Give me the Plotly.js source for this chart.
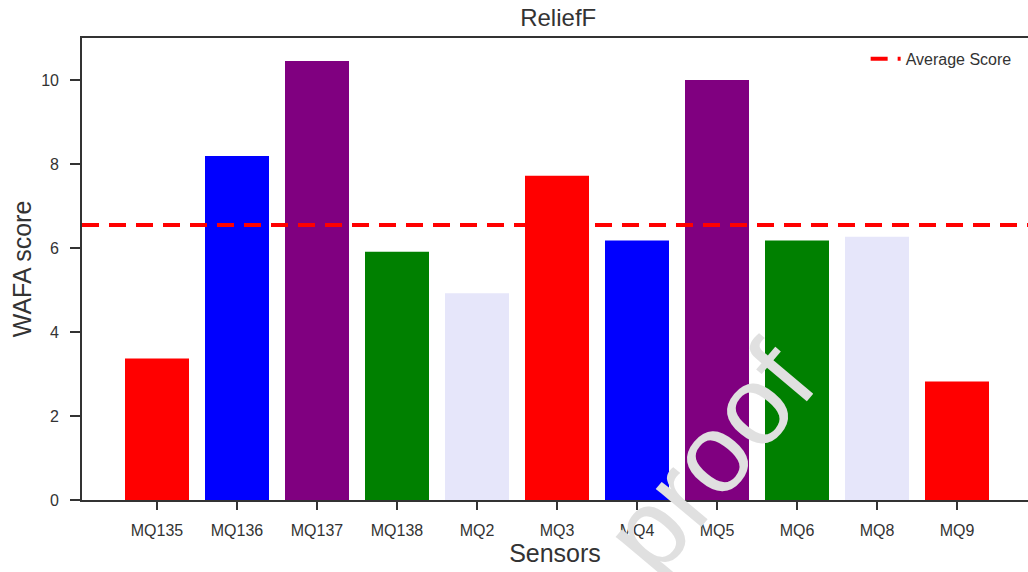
<!DOCTYPE html>
<html>
<head>
<meta charset="utf-8">
<script src="https://cdn.plot.ly/plotly-3.0.1.min.js"></script>
<style>html,body{margin:0;padding:0;background:#fff;} #chart{width:1028px;height:572px;}</style>
</head>
<body>
<div id="chart"></div>
<script>
const sensors = ["MQ135","MQ136","MQ137","MQ138","MQ2","MQ3","MQ4","MQ5","MQ6","MQ8","MQ9"];
const scores = [3.37, 8.19, 10.45, 5.91, 4.92, 7.72, 6.18, 10.0, 6.18, 6.27, 2.82];
const barColors = ["#ff0000","#0000ff","#800080","#008000","#e6e6fa","#ff0000","#0000ff","#800080","#008000","#e6e6fa","#ff0000"];
const averageScore = 6.55;
const yTicks = [0, 2, 4, 6, 8, 10];

const FONT = "Liberation Sans, Arial, sans-serif";
const INK = "#333333";

const data = [{
  type: "bar",
  x: sensors,
  y: scores,
  width: 0.8,
  marker: {color: barColors, line: {width: 0}},
  showlegend: false,
  hoverinfo: "x+y"
}];

const layout = {
  width: 1028, height: 572,
  margin: {l: 82, r: 0, t: 38, b: 72},
  paper_bgcolor: "#fff", plot_bgcolor: "#fff",
  font: {family: FONT, color: INK},
  title: {text: "ReliefF", font: {size: 24, color: INK, family: FONT}, x: 0.543, xanchor: "center", y: 0.97, yanchor: "middle", xref: "container"},
  xaxis: {
    type: "category",
    range: [-0.9375, 10.8875],
    showgrid: false, zeroline: false,
    showline: true, linecolor: INK, linewidth: 1.8, mirror: true,
    ticks: "outside", ticklen: 8, tickwidth: 1.6, tickcolor: INK,
    ticklabelstandoff: 7,
    tickfont: {size: 16, color: INK, family: FONT},
    title: {text: "Sensors", font: {size: 25, color: INK, family: FONT}, standoff: 5}
  },
  yaxis: {
    range: [0, 11],
    tickvals: yTicks,
    showgrid: false, zeroline: false,
    showline: true, linecolor: INK, linewidth: 1.8,
    ticks: "outside", ticklen: 10, tickwidth: 1.6, tickcolor: INK,
    ticklabelstandoff: 8,
    tickfont: {size: 16, color: INK, family: FONT},
    title: {text: "WAFA score", font: {size: 25, color: INK, family: FONT}, standoff: 2}
  },
  shapes: [{
    type: "line", xref: "paper", x0: 0, x1: 1, yref: "y", y0: averageScore, y1: averageScore,
    line: {color: "#ff0000", width: 4, dash: "17px,10px"},
    showlegend: true, name: "Average Score"
  }],
  legend: {x: 0.988, xanchor: "right", y: 0.9915, yanchor: "top", bgcolor: "rgba(0,0,0,0)", font: {size: 16, color: INK, family: FONT}},
  annotations: [{
    text: "proof", xref: "paper", yref: "paper", x: 0.663, y: 0.092,
    xanchor: "center", yanchor: "middle", showarrow: false, textangle: -50,
    font: {size: 112, color: "#e0e0e0", family: FONT}
  }]
};

Plotly.newPlot("chart", data, layout, {displayModeBar: false, staticPlot: true});
</script>
</body>
</html>
